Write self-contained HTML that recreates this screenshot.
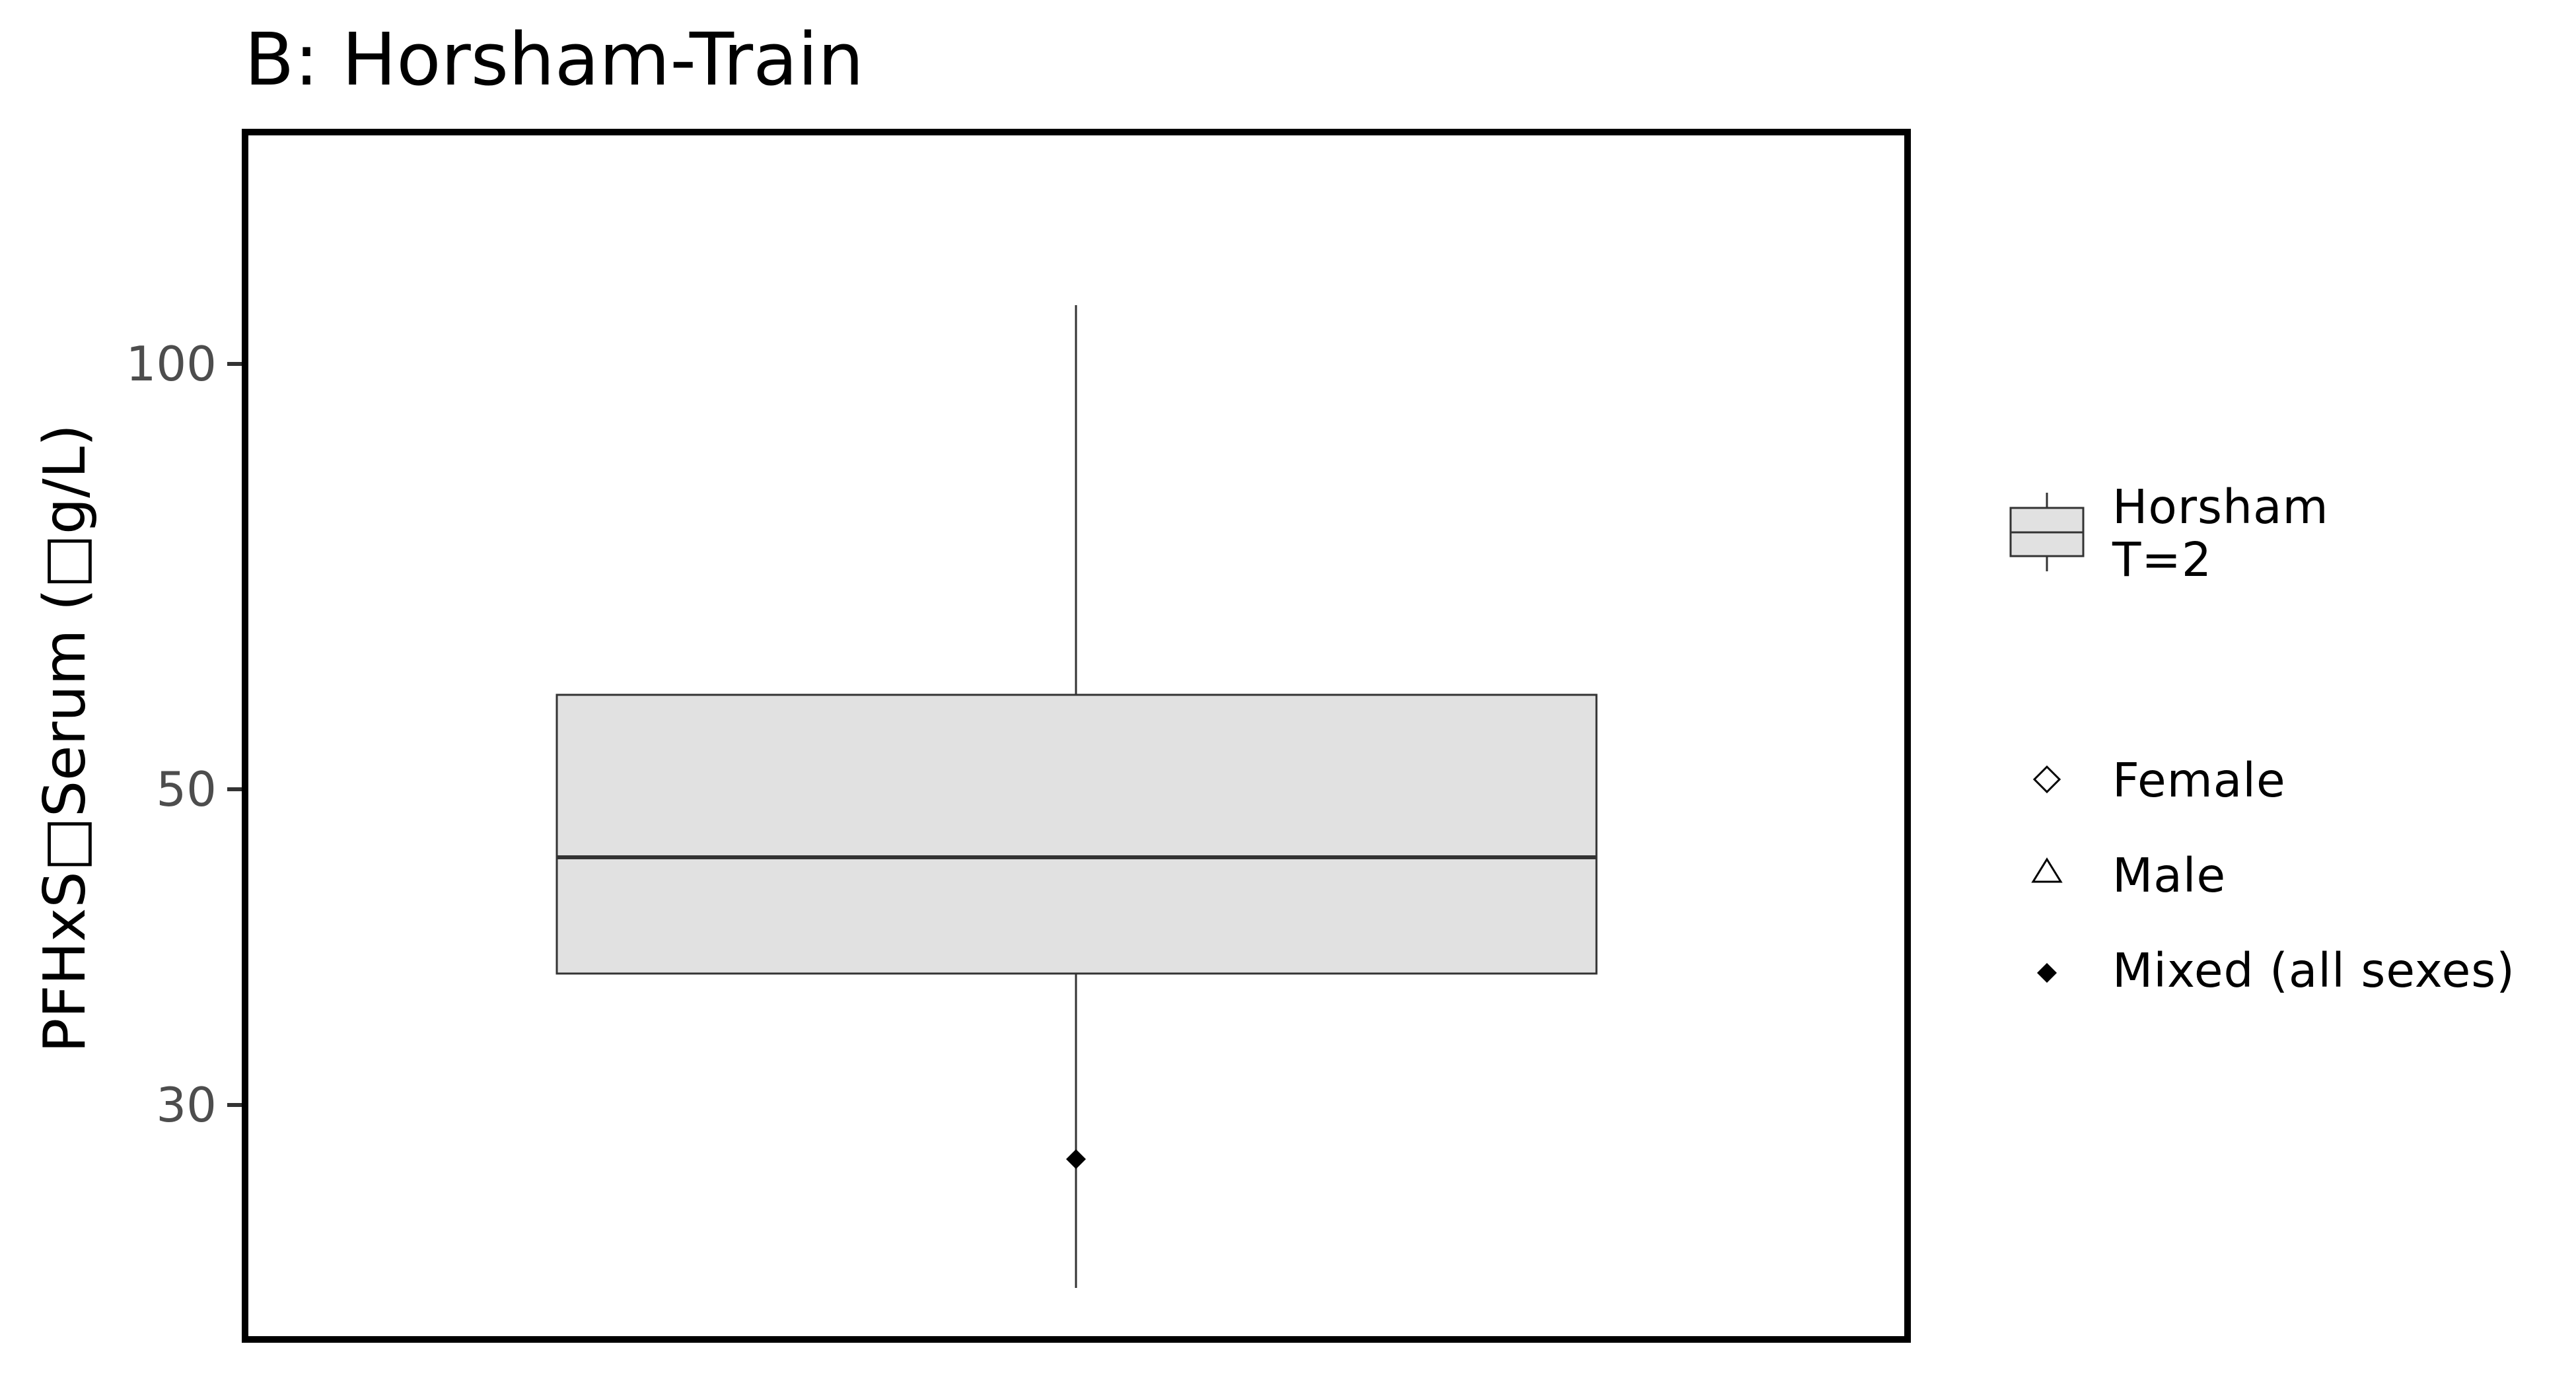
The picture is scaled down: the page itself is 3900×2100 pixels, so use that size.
<!DOCTYPE html>
<html><head><meta charset="utf-8"><style>
html,body{margin:0;padding:0;background:#fff;}
svg{display:block;}
text{font-family:"DejaVu Sans","Liberation Sans",sans-serif;}
</style></head><body>
<svg width="3900" height="2100" viewBox="0 0 3900 2100" xmlns="http://www.w3.org/2000/svg">
<rect width="3900" height="2100" fill="#fff"/>
<text x="370" y="128" font-size="110" fill="#000">B: Horsham-Train</text>
<line x1="1629" y1="462" x2="1629" y2="1052" stroke="#333" stroke-width="3"/>
<line x1="1629" y1="1474" x2="1629" y2="1950" stroke="#333" stroke-width="3"/>
<rect x="843" y="1052" width="1574" height="422" fill="#e1e1e1" stroke="#333" stroke-width="3"/>
<line x1="843" y1="1298" x2="2417" y2="1298" stroke="#333" stroke-width="6"/>
<polygon points="1629,1740 1644,1755 1629,1770 1614,1755" fill="#000"/>
<rect x="371" y="200" width="2517" height="1828" fill="none" stroke="#000" stroke-width="10"/>
<g stroke="#333" stroke-width="6">
<line x1="344" y1="551" x2="366" y2="551"/>
<line x1="344" y1="1195" x2="366" y2="1195"/>
<line x1="344" y1="1673" x2="366" y2="1673"/>
</g>
<g font-size="72" fill="#4d4d4d" text-anchor="end">
<text x="328" y="576">100</text>
<text x="328" y="1220">50</text>
<text x="328" y="1698">30</text>
</g>
<text transform="translate(128,1118) rotate(-90)" font-size="87" text-anchor="middle" fill="#000">PFHxS□Serum (□g/L)</text>
<line x1="3099" y1="746" x2="3099" y2="865" stroke="#333" stroke-width="3"/>
<rect x="3044" y="769" width="110" height="73" fill="#e1e1e1" stroke="#333" stroke-width="3"/>
<line x1="3044" y1="806" x2="3154" y2="806" stroke="#333" stroke-width="3"/>
<g font-size="71" fill="#000" letter-spacing="1">
<text x="3198" y="792">Horsham</text>
<text x="3198" y="872">T=2</text>
<text x="3198" y="1206">Female</text>
<text x="3198" y="1350">Male</text>
<text x="3198" y="1494">Mixed (all sexes)</text>
</g>
<polygon points="3099,1161 3118,1180 3099,1199 3080,1180" fill="none" stroke="#000" stroke-width="3"/>
<polygon points="3099,1301 3120,1335 3078,1335" fill="none" stroke="#000" stroke-width="3"/>
<polygon points="3099,1458 3114,1473 3099,1488 3084,1473" fill="#000"/>
</svg>
</body></html>
